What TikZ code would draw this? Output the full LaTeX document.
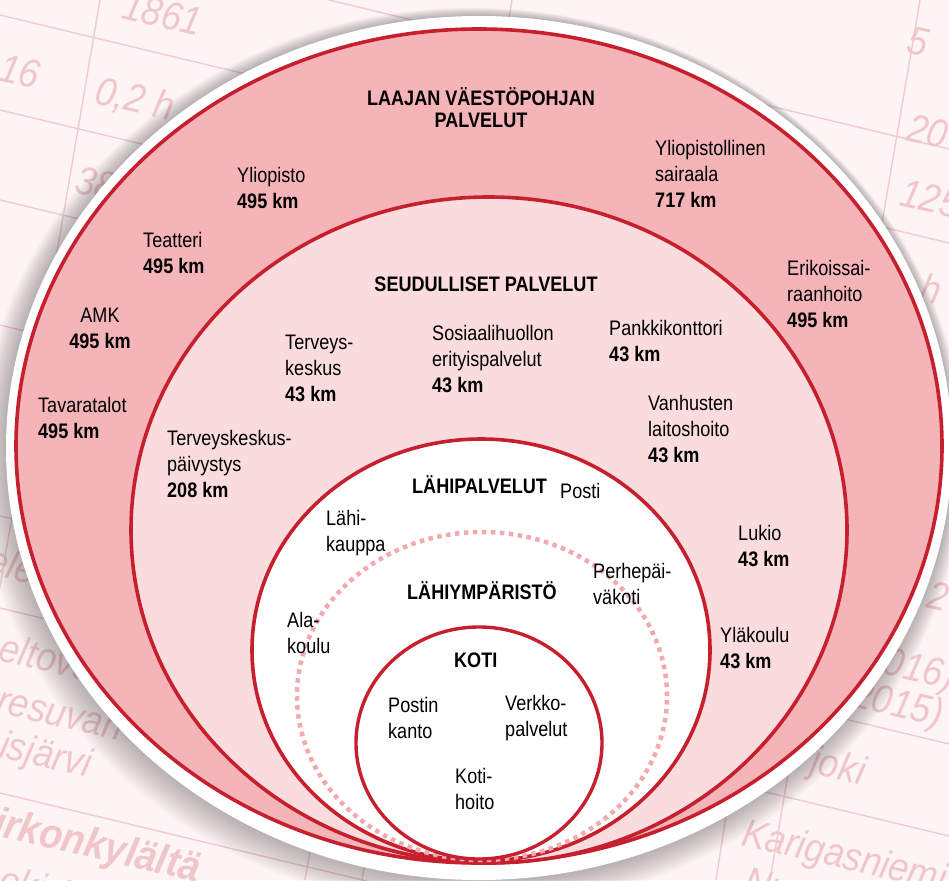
\documentclass[tikz,border=0pt]{standalone}
\usepackage{fontspec}
\setmainfont{Liberation Sans}[FakeStretch=0.86]
\newfontfamily\bgfont{Liberation Sans}[FakeStretch=0.9]
\definecolor{bgcol}{HTML}{FDF4F5}
\definecolor{tblcol}{HTML}{F1CACD}
\definecolor{bgtxtcol}{HTML}{F1C6CA}
\definecolor{ringred}{HTML}{C61F2D}
\definecolor{outerpink}{HTML}{F5B4B8}
\definecolor{midpink}{HTML}{FADBDE}
\definecolor{dotpink}{HTML}{F3A9AF}
\begin{document}
\begin{tikzpicture}[x=1pt,y=-1pt,
 lbl/.style={anchor=north west,inner sep=0pt,align=left,font=\fontsize{21}{26}\selectfont},
 hd/.style={inner sep=0pt,align=center,font=\fontsize{21}{22}\selectfont\bfseries},
 bgt/.style={inner sep=0pt,text=bgtxtcol,font=\bgfont\fontsize{40}{40}\selectfont\itshape,rotate=-13},
 tbl/.style={draw=tblcol,line width=1.4pt},
 ring/.style={draw=ringred,line width=3.6pt}]
\useasboundingbox (0,0) rectangle (949,880);
\clip (0,0) rectangle (949,880);
\fill[bgcol] (0,0) rectangle (949,880);
% faint table in the background
\draw[tbl] (0,15) -- (949,243);
\draw[tbl] (300,-7) -- (949,149);
\draw[tbl] (0,110) -- (400,206);
\draw[tbl] (0,200) -- (300,272);
\draw[tbl] (0,325) -- (200,373);
\draw[tbl] (0,516) -- (949,744);
\draw[tbl] (0,608) -- (949,836);
\draw[tbl] (0,793) -- (949,1021);
\draw[tbl] (100,0) -- (-50,880);
\draw[tbl] (512,0) -- (362,880);
\draw[tbl] (920,0) -- (770,880);
\draw[tbl] (730,790) -- (716,880);
\draw[tbl] (312,840) -- (305,880);
% faint table texts
\node[bgt,anchor=base west] (b1) at (120,18) {1861};
\node[bgt,anchor=base west] (b2) at (-3,80) {16};
\node[bgt,anchor=base west] (b3) at (93,103) {0,2 h};
\node[bgt,anchor=base west] (b4) at (73,192) {38};
\node[bgt,anchor=base west] (b5) at (905,52) {5};
\node[bgt,anchor=base west] (b6) at (905,140) {20};
\node[bgt,anchor=base west] (b7) at (898,205) {125};
\node[bgt,anchor=base west] (b8) at (918,300) {h};
\node[bgt,anchor=base west] (b9) at (925,607) {2};
\node[bgt,anchor=base east] (b10) at (952,690) {2016)};
\node[bgt,anchor=base east] (b11) at (940,727) {(2015)};
\node[bgt,anchor=base east] (b12) at (862,785) {joki};
\node[bgt,anchor=base west] (b13) at (740,845) {Karigasniemi};
\node[bgt,anchor=base west] (b14) at (742,893) {Nuor};
\node[bgt,anchor=base east,rotate=-3] (b15) at (32,585) {ele};
\node[bgt,anchor=base west] (b16) at (-3,660) {eltova};
\node[bgt,anchor=base west] (b17) at (-5,712) {resuvan};
\node[bgt,anchor=base west] (b18) at (-2,757) {isjärvi};
\node[bgt,anchor=base west,font=\bgfont\fontsize{42}{42}\selectfont\bfseries\itshape] (b19) at (-8,835) {irkonkylältä};
\node[bgt,anchor=base west] (b20) at (-3,892) {oki 19};
% soft shadow
\foreach \i in {1,...,12}
  \fill[black,opacity=0.024] ({479-\i*0.6},{448+\i*0.9}) ellipse [x radius={473pt+\i*1.6pt}, y radius={432pt+\i*1.6pt}];
% rings
\fill[white] (479,448) ellipse [x radius=473pt, y radius=432pt];
\filldraw[ring,fill=outerpink] (479,446) ellipse [x radius=463pt, y radius=417pt];
\filldraw[ring,fill=midpink] (489,530) ellipse [x radius=358pt, y radius=333pt];
\filldraw[ring,fill=white] (481,650) ellipse [x radius=229pt, y radius=211pt];
\draw[dotpink,line width=4.5pt,dash pattern=on 4.5pt off 4.5pt] (482,696) ellipse [x radius=185pt, y radius=164pt];
\draw[ring,line width=3.4pt] (479,743) ellipse [x radius=123pt, y radius=116pt];
% outer band
\node[hd,anchor=north] (laaja) at (481,87) {LAAJAN VÄESTÖPOHJAN\\PALVELUT};
\node[lbl] (yliopisto) at (237,167) {Yliopisto\\\textbf{495 km}};
\node[lbl] (teatteri) at (143,232) {Teatteri\\\textbf{495 km}};
\node[lbl,anchor=north,align=center] (amk) at (100,308) {AMK\\\textbf{495 km}};
\node[lbl] (tavaratalot) at (38,397) {Tavaratalot\\\textbf{495 km}};
\node[lbl] (ysairaala) at (655,140) {Yliopistollinen\\sairaala\\\textbf{717 km}};
\node[lbl] (erikois) at (787,260) {Erikoissai-\\raanhoito\\\textbf{495 km}};
% regional
\node[hd,anchor=north] (seudulliset) at (486,277) {SEUDULLISET PALVELUT};
\node[lbl] (terveys) at (285,335) {Terveys-\\keskus\\\textbf{43 km}};
\node[lbl] (sosiaali) at (432,325) {Sosiaalihuollon\\erityispalvelut\\\textbf{43 km}};
\node[lbl] (pankki) at (609,320) {Pankkikonttori\\\textbf{43 km}};
\node[lbl] (vanhus) at (648,395) {Vanhusten\\laitoshoito\\\textbf{43 km}};
\node[lbl] (paivystys) at (167,430) {Terveyskeskus-\\päivystys\\\textbf{208 km}};
\node[lbl] (lukio) at (738,525) {Lukio\\\textbf{43 km}};
\node[lbl] (ylakoulu) at (720,627) {Yläkoulu\\\textbf{43 km}};
% local
\node[hd,anchor=base west] (lahip) at (412,493) {LÄHIPALVELUT};
\node[lbl] (posti) at (560,483) {Posti};
\node[lbl] (lahikauppa) at (326,510) {Lähi-\\kauppa};
\node[lbl] (alakoulu) at (287,612) {Ala-\\koulu};
\node[lbl] (perhe) at (593,563) {Perhepäi-\\väkoti};
\node[hd,anchor=base west] (lahiy) at (407,599) {LÄHIYMPÄRISTÖ};
% home
\node[hd,anchor=north west] (koti) at (454,653) {KOTI};
\node[lbl] (postin) at (388,697) {Postin\\kanto};
\node[lbl] (verkko) at (505,695) {Verkko-\\palvelut};
\node[lbl] (kotihoito) at (455,768) {Koti-\\hoito};
\end{tikzpicture}
\end{document}
